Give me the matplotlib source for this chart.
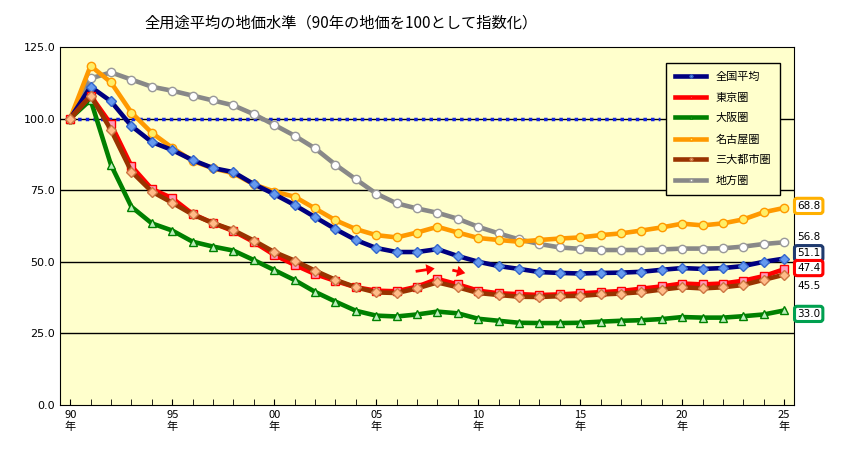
import matplotlib
matplotlib.use('Agg')
import matplotlib.pyplot as plt
import numpy as np

plt.rcParams['font.family'] = ['Noto Sans CJK JP', 'DejaVu Sans']

years = np.arange(1990, 2026)

national = [100, 111.1, 106.0, 97.4, 91.8, 89.0, 85.5, 82.7, 81.3, 77.1, 73.6, 69.8, 65.6, 61.4, 57.6,
            54.8, 53.4, 53.4, 54.4, 52.0, 50.0, 48.5, 47.5, 46.4, 46.1, 45.9, 46.1, 46.2, 46.5, 47.2,
            47.8, 47.5, 47.8, 48.5, 50.0, 51.1]
tokyo = [100, 108.0, 98.0, 83.4, 75.4, 72.2, 66.7, 63.5, 60.7, 56.9, 52.4, 48.9, 45.7, 43.3, 41.1,
         39.9, 39.7, 41.3, 44.0, 42.1, 39.9, 39.0, 38.7, 38.4, 38.6, 39.0, 39.4, 39.8, 40.6, 41.4,
         42.4, 42.1, 42.4, 43.4, 45.0, 47.4]
osaka = [100, 106.5, 83.8, 69.2, 63.4, 60.9, 57.0, 55.3, 53.9, 50.6, 47.1, 43.6, 39.5, 36.1, 32.9,
         31.2, 30.9, 31.6, 32.6, 32.0, 30.1, 29.4, 28.7, 28.6, 28.6, 28.7, 29.1, 29.4, 29.6, 30.0,
         30.7, 30.5, 30.5, 31.0, 31.6, 33.0]
nagoya = [100, 118.4, 112.6, 102.1, 95.0, 89.8, 85.2, 82.6, 80.9, 77.0, 74.5, 72.7, 68.6, 64.5, 61.4,
          59.3, 58.5, 60.2, 62.2, 60.2, 58.3, 57.6, 57.0, 57.6, 58.1, 58.5, 59.3, 59.9, 60.9, 62.0,
          63.3, 62.7, 63.4, 64.8, 67.3, 68.8]
three = [100, 108.0, 96.0, 81.5, 74.5, 70.6, 66.5, 63.5, 61.0, 57.4, 53.4, 50.4, 46.9, 43.7, 41.1,
         39.3, 39.1, 40.7, 42.8, 41.1, 39.1, 38.4, 37.8, 37.7, 38.0, 38.1, 38.6, 38.9, 39.4, 40.3,
         41.1, 40.7, 41.1, 41.9, 43.7, 45.5]
local = [100, 114.0, 116.1, 113.6, 111.1, 109.7, 108.0, 106.3, 104.6, 101.5, 97.8, 94.0, 89.6, 83.9, 78.8,
         73.8, 70.4, 68.6, 67.1, 65.0, 62.2, 59.9, 57.8, 56.2, 55.0, 54.5, 54.1, 54.1, 54.1, 54.3,
         54.6, 54.6, 54.7, 55.3, 56.2, 56.8]

names = ['全国平均', '東京圏', '大阪圏', '名古屋圏', '三大都市圏', '地方圏']
xtick_years = [1990, 1995, 2000, 2005, 2010, 2015, 2020, 2025]
xtick_labels = ['90\n年', '95\n年', '00\n年', '05\n年', '10\n年', '15\n年', '20\n年', '25\n年']
yticks = [0, 25, 50, 75, 100, 125]

fig = plt.figure(figsize=(8.51, 4.51), dpi=100)
ax = fig.add_axes([0.0705, 0.102, 0.863, 0.794])
ax.set_facecolor('#FFFFCC')

for y in yticks[1:-1]:
    ax.axhline(y, color='black', lw=1, zorder=1)
ax.plot([1990, 2018.9], [100, 100], color='#1020E0', lw=2.5, ls=(0, (1, 1.2)), zorder=2)

lw = 3.3
ax.plot(years, local, color='#888888', lw=lw, marker='o', ms=6, mfc='white', mec='#999999', zorder=3, label=names[5])
ax.plot(years, nagoya, color='#FF9900', lw=lw, marker='o', ms=6, mfc='#FFEE66', mec='#FF9900', zorder=4, label=names[3])
ax.plot(years, national, color='#000080', lw=lw, marker='D', ms=5, mfc='#6699EE', mec='#3366CC', zorder=5, label=names[0])
ax.plot(years, osaka, color='#008000', lw=lw, marker='^', ms=6, mfc='#BBEEBB', mec='#008000', zorder=5, label=names[2])
ax.plot(years, tokyo, color='#FF0000', lw=lw, marker='s', ms=6, mfc='#FF99BB', mec='#FF0000', zorder=6, label=names[1])
ax.plot(years, three, color='#993300', lw=lw, marker='D', ms=5, mfc='#FFBB88', mec='#CC7744', zorder=7, label=names[4])

ax.set_xlim(1989.5, 2025.5)
ax.set_ylim(0, 125)
ax.set_yticks(yticks)
ax.set_yticklabels(['%.1f' % v for v in yticks], fontsize=8, family='DejaVu Sans')
ax.set_xticks(xtick_years)
ax.set_xticklabels(xtick_labels, fontsize=8)
ax.set_xticks(years, minor=True)
ax.tick_params(axis='x', which='both', direction='in', length=4)
ax.tick_params(axis='y', length=0)

handles, labels = ax.get_legend_handles_labels()
hmap = dict(zip(labels, handles))
leg = ax.legend([hmap[n] for n in names], names, loc='upper left', bbox_to_anchor=(0.818, 0.97),
                fontsize=8, frameon=True, fancybox=False, edgecolor='black', markerscale=0.35,
                handlelength=2.8, labelspacing=0.95, borderpad=0.8, facecolor='#FFFFCC', framealpha=1)
leg.get_frame().set_linewidth(1)

# end labels
end_values = [68.8, 56.8, 51.1, 47.4, 45.5, 33.0]
end_colors = ['#FFB000', None, '#1F3A6E', '#FF0000', None, '#00A050']
label_y = [69.5, 58.6, 53.0, 47.8, 41.5, 31.8]
for v, c, ly in zip(end_values, end_colors, label_y):
    bbox = dict(boxstyle='round,pad=0.25', fc='white', ec=c, lw=2.2) if c else None
    ax.text(2026.2, ly, '%.1f' % v, fontsize=7.5, ha='center', va='center', bbox=bbox,
            family='DejaVu Sans', clip_on=False)

# red arrows
ax.annotate('', xy=(2008.0, 47.8), xytext=(2006.8, 46.5),
            arrowprops=dict(arrowstyle='simple,head_width=0.8,head_length=0.6', color='red', lw=0))
ax.annotate('', xy=(2009.5, 45.8), xytext=(2008.6, 47.3),
            arrowprops=dict(arrowstyle='simple,head_width=0.8,head_length=0.6', color='red', lw=0))

fig.text(0.17, 0.94, '全用途平均の地価水準（90年の地価を100として指数化）', fontsize=11)

fig.savefig('out.png', dpi=100)
